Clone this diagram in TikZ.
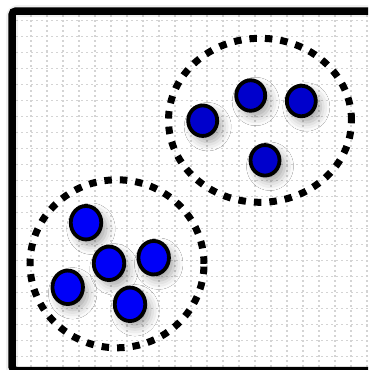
\documentclass[tikz,border=0pt]{standalone}
\usetikzlibrary{shapes.geometric,shadows.blur}
\definecolor{darkblue}{HTML}{0000CC}
\definecolor{brightblue}{HTML}{0000F8}
\definecolor{gridgray}{HTML}{D4D4D4}
\tikzset{
  gridline/.style={draw=gridgray, line width=1.4pt, dash pattern=on 2pt off 3pt},
  cluster/.style={ellipse, draw=black, line width=7pt, dash pattern=on 7.5pt off 8pt, inner sep=0pt},
  dotbase/.style={ellipse, draw=black, line width=3.8pt, inner sep=0pt,
    blur shadow={shadow xshift=5pt, shadow yshift=-6pt, shadow blur radius=9pt, shadow opacity=35}},
  dotA/.style={dotbase, fill=darkblue, minimum width=29pt, minimum height=30.5pt},
  dotB/.style={dotbase, fill=brightblue, minimum width=30.5pt, minimum height=33.5pt},
  frameline/.style={draw=black, line width=7.5pt, rounded corners=4pt}
}
\begin{document}
\begin{tikzpicture}[x=1pt,y=-1pt]
\useasboundingbox (0,0) rectangle (368,370);
\clip (0,0) rectangle (368,370);
\fill[white] (0,0) rectangle (368,370);
% grid
\foreach \i in {0,...,21} {
  \draw[gridline] (31+16*\i,15) -- (31+16*\i,368);
  \draw[gridline] (16,20.7+16*\i) -- (368,20.7+16*\i);
}
% clusters
\node[cluster, minimum width=183pt, minimum height=164pt] (c1) at (260,120.3) {};
\node[cluster, minimum width=174pt, minimum height=168pt] (c2) at (117,263.8) {};
% top-right dots
\node[dotA] (a1) at (202.7,120.7) {};
\node[dotA] (a2) at (250.7,95.5) {};
\node[dotA] (a3) at (301.3,101) {};
\node[dotA] (a4) at (265,160.3) {};
% bottom-left dots
\node[dotB] (b1) at (86,222.7) {};
\node[dotB] (b2) at (109,263.3) {};
\node[dotB] (b3) at (153.7,257.7) {};
\node[dotB] (b4) at (67.7,287.3) {};
\node[dotB] (b5) at (130,304.3) {};
% frame shadow
\draw[black, opacity=0.06, line width=12pt, rounded corners=6pt] (12,11) rectangle (380,378);
% frame
\draw[frameline] (12,11) rectangle (380,370.5);
\end{tikzpicture}
\end{document}
